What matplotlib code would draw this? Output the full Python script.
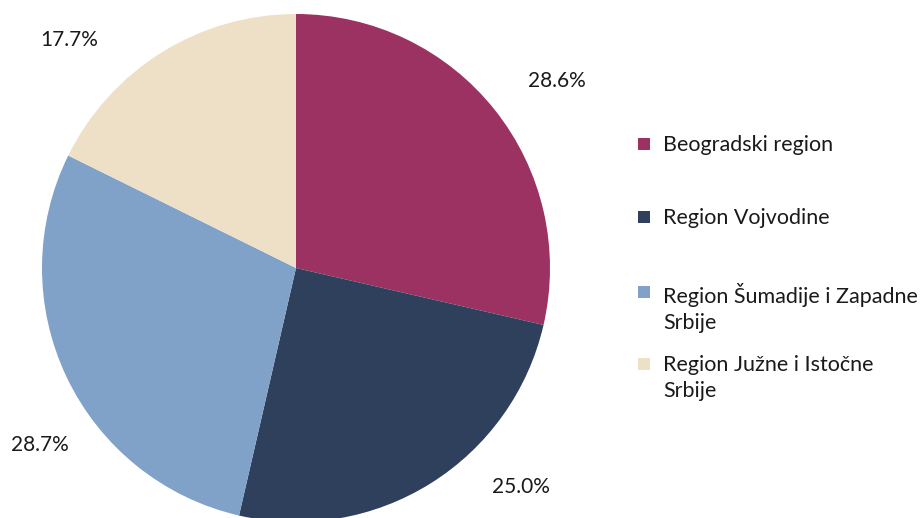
import matplotlib
matplotlib.use("Agg")
import matplotlib.pyplot as plt
from matplotlib.patches import Rectangle

categories = ["Beogradski region", "Region Vojvodine",
              "Region Šumadije i Zapadne\nSrbije", "Region Južne i Istočne\nSrbije"]
values = [28.6, 25.0, 28.7, 17.7]
colors = ["#9B3262", "#2F405C", "#81A2C8", "#EEE0C7"]

plt.rcParams['font.family'] = ['Lato', 'DejaVu Sans']

W, H = 924, 518
fig = plt.figure(figsize=(W / 100, H / 100), dpi=100)
cx, cy, r = 296, 268, 254
ax = fig.add_axes([(cx - r) / W, (H - cy - r) / H, 2 * r / W, 2 * r / H])
wedges, _ = ax.pie(values, colors=colors, startangle=90, counterclock=False,
                   radius=1, wedgeprops=dict(linewidth=0))
ax.set_xlim(-1, 1)
ax.set_ylim(-1, 1)
ax.set_aspect('equal')
ax.axis('off')

# label positions (data units, layout only)
label_pos = [(1.028, 0.736), (0.886, -0.862), (-1.008, -0.697), (-0.894, 0.898)]
for v, (x, y) in zip(values, label_pos):
    ax.text(x, y, f"{v:.1f}%", ha='center', va='center', fontsize=15,
            color='#1a1a1a', clip_on=False)

# legend
legend_y = [144, 217, 292, 364]
for cat, col, ly in zip(categories, colors, legend_y):
    fig.patches.append(Rectangle(((638) / W, (H - ly - 6) / H), 12 / W, 12 / H,
                                 transform=fig.transFigure, facecolor=col,
                                 edgecolor='none'))
    fig.text(663 / W, (H - ly + 9) / H, cat, ha='left', va='top', fontsize=15.5,
             color='#1a1a1a', linespacing=1.4)

fig.savefig("out.png", dpi=100)
